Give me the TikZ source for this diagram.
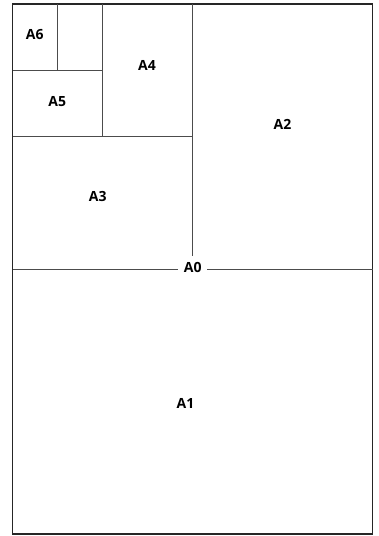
\documentclass[tikz,border=0pt]{standalone}
\usepackage{fontspec}
\setsansfont{Open Sans}
\begin{document}
\begin{tikzpicture}[x=1pt,y=-1pt,
  edge/.style={draw=black!70,line width=1pt},
  outer/.style={draw=black!85,line width=1.1pt},
  lbl/.style={font=\sffamily\bfseries\fontsize{14}{16}\selectfont,inner sep=0pt}]
\useasboundingbox (0,0) rectangle (379,536);
% outer sheet
\draw[outer] (12.5,4) rectangle (372.7,534);
% A0 split
\draw[edge] (12.5,269) -- (372.7,269);
\draw[edge] (192.5,4) -- (192.5,269);
% A3 / top-left split
\draw[edge] (12.5,136) -- (192.5,136);
\draw[edge] (102.5,4) -- (102.5,136);
\draw[edge] (12.5,70) -- (102.5,70);
\draw[edge] (57.5,4) -- (57.5,70);
% labels
\node[lbl] (a6) at (34.7,34.7) {A6};
\node[lbl] (a5) at (57.2,101.7) {A5};
\node[lbl] (a4) at (147,65) {A4};
\node[lbl] (a3) at (97.8,196.7) {A3};
\node[lbl] (a2) at (282.5,124.7) {A2};
\node[lbl] (a1) at (185.5,403) {A1};
\node[lbl,fill=white,inner xsep=5.5pt,inner ysep=6pt] (a0) at (192.7,267.5) {A0};
\end{tikzpicture}
\end{document}
